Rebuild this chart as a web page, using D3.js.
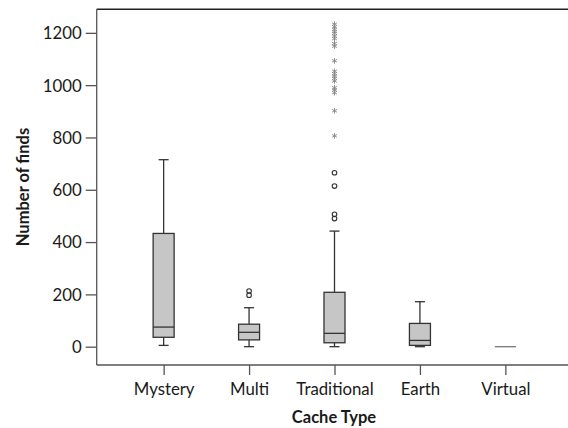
<!DOCTYPE html>
<html><head><meta charset="utf-8">
<script src="https://cdn.jsdelivr.net/npm/d3@7"></script>
<style>body{margin:0;background:#fff}svg{display:block}</style>
</head><body>
<script>
const categories = ["Mystery","Multi","Traditional","Earth","Virtual"];
const lowWhisker = [5, 0, 0, 0, 0];
const q1 = [36, 26, 15, 5, 0];
const median = [75, 55, 51, 24, 0];
const q3 = [433, 86, 208, 89, 0];
const highWhisker = [715, 149, 442, 172, 0];
// outliers (circles) per category
const outlierCat = ["Multi","Multi","Traditional","Traditional","Traditional","Traditional"];
const outlierVal = [197, 213, 490, 506, 614, 665];
// extreme values (asterisks)
const extremeCat = "Traditional";
const extremeVal = [806, 902, 971, 981, 990, 1016, 1026, 1034, 1044, 1053, 1093, 1149, 1159, 1178, 1187, 1198, 1205, 1213, 1223, 1233];
const yTicks = [0, 200, 400, 600, 800, 1000, 1200];

const W = 568, H = 428;
const font = "Lato, 'Open Sans', sans-serif";
const svg = d3.select("body").append("svg").attr("width", W).attr("height", H);

const y = d3.scaleLinear().domain([-70, 1290]).range([365, 9.3]);
const x = d3.scalePoint().domain(categories).range([97, 572]).padding(0.78);
const boxW = 21, capW = 10;

// frame
svg.append("line").attr("x1",96.7).attr("x2",W+5).attr("y1",9.3).attr("y2",9.3).attr("stroke","#222").attr("stroke-width",1.4);

// y axis
const gy = svg.append("g").attr("transform","translate(96.7,0)")
  .call(d3.axisLeft(y).tickValues(yTicks).tickSize(11).tickPadding(4).tickFormat(d3.format("d")));
gy.select(".domain").attr("d", `M0,${y.range()[0]}V${y.range()[1]}`);
// x axis
const gx = svg.append("g").attr("transform","translate(0,365)")
  .call(d3.axisBottom(x).tickSize(10).tickPadding(6));
gx.select(".domain").attr("d", `M96.7,0H${W+5}`);
[gx, gy].forEach(g => {
  g.selectAll("path,line").attr("stroke","#555").attr("stroke-width",1.3);
  g.selectAll("text").attr("font-family",font).attr("font-size",16.8).attr("fill","#1a1a1a");
});
gy.selectAll("text").attr("dy","0.35em");
gx.selectAll("text").attr("dy","0.85em");

const data = categories.map((c,i)=>({c, lo:lowWhisker[i], q1:q1[i], med:median[i], q3:q3[i], hi:highWhisker[i]}));
const g = svg.append("g");
const stroke = "#333", sw = 1.3;
data.forEach(d => {
  const cx = x(d.c);
  if (d.hi !== d.lo) {
    g.append("line").attr("x1",cx).attr("x2",cx).attr("y1",y(d.q3)).attr("y2",y(d.hi)).attr("stroke",stroke).attr("stroke-width",sw);
    g.append("line").attr("x1",cx).attr("x2",cx).attr("y1",y(d.q1)).attr("y2",y(d.lo)).attr("stroke",stroke).attr("stroke-width",sw);
    g.append("line").attr("x1",cx-capW/2).attr("x2",cx+capW/2).attr("y1",y(d.hi)).attr("y2",y(d.hi)).attr("stroke",stroke).attr("stroke-width",sw);
    g.append("line").attr("x1",cx-capW/2).attr("x2",cx+capW/2).attr("y1",y(d.lo)).attr("y2",y(d.lo)).attr("stroke",stroke).attr("stroke-width",sw);
    g.append("rect").attr("x",cx-boxW/2).attr("width",boxW).attr("y",y(d.q3)).attr("height",y(d.q1)-y(d.q3))
      .attr("fill","#c6c6c6").attr("stroke",stroke).attr("stroke-width",sw);
  }
  g.append("line").attr("x1",cx-boxW/2).attr("x2",cx+boxW/2).attr("y1",y(d.med)).attr("y2",y(d.med))
    .attr("stroke", d.hi===d.lo ? "#777" : stroke).attr("stroke-width",sw);
});

// outliers
g.selectAll("circle.out").data(outlierVal).join("circle").attr("class","out")
  .attr("cx",(d,i)=>x(outlierCat[i])).attr("cy",d=>y(d)).attr("r",2.3)
  .attr("fill","none").attr("stroke","#333").attr("stroke-width",1.1);

// extremes
g.selectAll("path.ext").data(extremeVal).join("path").attr("class","ext")
  .attr("transform",d=>`translate(${x(extremeCat)},${y(d)})`)
  .attr("d", d3.symbol(d3.symbolAsterisk, 22)())
  .attr("fill","none").attr("stroke","#888").attr("stroke-width",0.9);

// titles
svg.append("text").attr("transform","translate(23,187) rotate(-90)").attr("text-anchor","middle").attr("dy","0.35em")
  .attr("font-family",font).attr("font-weight","bold").attr("font-size",16.5).attr("fill","#1a1a1a").text("Number of finds");
svg.append("text").attr("x",334).attr("y",417).attr("text-anchor","middle").attr("dy","0.35em")
  .attr("font-family",font).attr("font-weight","bold").attr("font-size",16.5).attr("fill","#1a1a1a").text("Cache Type");
</script>
</body></html>
